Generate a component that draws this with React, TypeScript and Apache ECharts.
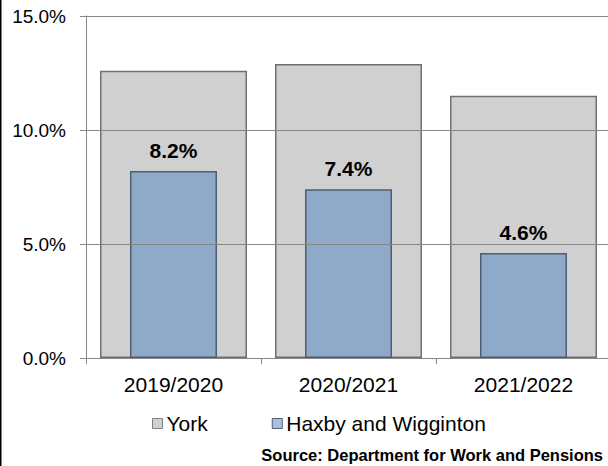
import React, { useEffect, useRef } from "react";
import * as echarts from "echarts";

const categories = ["2019/2020", "2020/2021", "2021/2022"];
const yorkValues = [12.6, 12.9, 11.5];
const haxbyValues = [8.2, 7.4, 4.6];
const seriesNames = ["York", "Haxby and Wigginton"];
const sourceText = "Source: Department for Work and Pensions";

export default function App() {
  const ref = useRef<HTMLDivElement>(null);
  useEffect(() => {
    document.body.style.margin = "0";
    const chart = echarts.init(ref.current!, null, { renderer: "svg" });
    const font = "Arial, 'Liberation Sans', sans-serif";
    chart.setOption({
      animation: false,
      textStyle: { fontFamily: font },
      grid: { show: false, left: 86, right: 3, top: 16, bottom: 108 },
      legend: {
        data: [
          { name: seriesNames[0], itemStyle: { color: "#d0d0d0", borderColor: "#808080", borderWidth: 1 } },
          { name: seriesNames[1], itemStyle: { color: "#a9c1e0", borderColor: "#4f5e72", borderWidth: 1 } },
        ],
        left: 147,
        top: 408,
        icon: "rect",
        itemWidth: 10,
        itemHeight: 10,
        itemGap: 64,
        textStyle: { fontSize: 21, color: "#000", fontFamily: font, padding: [0, 0, 0, -1] },
      },
      xAxis: [
        {
          type: "category",
          data: categories,
          splitLine: { show: false },
          axisLine: { lineStyle: { color: "#868686" } },
          axisTick: { show: true, length: 6, lineStyle: { color: "#868686" } },
          axisLabel: { fontSize: 21, color: "#000", margin: 16, fontFamily: font },
        },
        { type: "category", data: categories, show: false, splitLine: { show: false } },
      ],
      yAxis: {
        type: "value",
        min: 0,
        max: 15,
        interval: 5,
        z: 5,
        axisLine: { show: true, lineStyle: { color: "#868686" } },
        axisTick: { show: true, length: 6, lineStyle: { color: "#868686" } },
        splitLine: { show: true, lineStyle: { color: "#868686", width: 1 } },
        axisLabel: {
          fontSize: 19,
          color: "#000",
          margin: 20,
          fontFamily: font,
          formatter: (v: number) => v.toFixed(1) + "%",
        },
      },
      series: [
        {
          name: seriesNames[0],
          type: "bar",
          xAxisIndex: 0,
          data: yorkValues,
          barWidth: 147,
          itemStyle: { color: "#d0d0d0", borderColor: "#707070", borderWidth: 1.5 },
        },
        {
          name: seriesNames[1],
          type: "bar",
          xAxisIndex: 1,
          data: haxbyValues,
          barWidth: 87,
          itemStyle: { color: "#8fa9c8", borderColor: "#4f5e72", borderWidth: 1.5 },
          label: {
            show: true,
            position: "top",
            distance: 10,
            fontSize: 21,
            fontWeight: "bold",
            color: "#000",
            fontFamily: font,
            formatter: (p: any) => Number(p.value).toFixed(1) + "%",
          },
        },
      ],
      graphic: [
        { type: "rect", left: 0, top: 0, shape: { width: 1.5, height: 466 }, style: { fill: "#000" } },
        {
          type: "text",
          right: 11,
          top: 446,
          style: { text: sourceText, fontSize: 16.5, fontWeight: "bold", fill: "#000", fontFamily: font },
        },
      ],
    });
    return () => chart.dispose();
  }, []);
  return (
    <div style={{ width: 608, height: 466, overflow: "hidden" }}>
      <div ref={ref} style={{ width: 614, height: 466 }} />
    </div>
  );
}
